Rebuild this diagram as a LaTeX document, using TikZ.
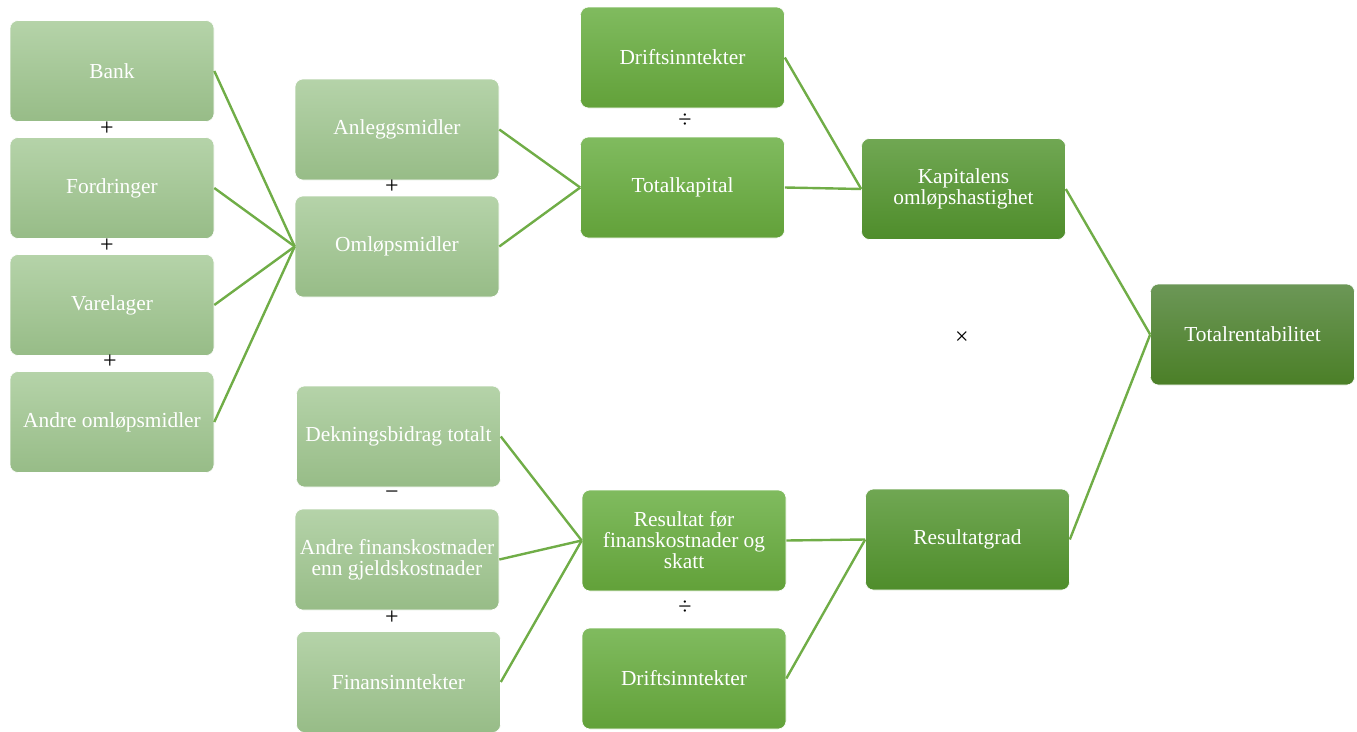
\documentclass[tikz,border=0pt]{standalone}
\usepackage{fontspec}
\setmainfont{Liberation Serif}
\definecolor{lineg}{HTML}{70AD47}
\definecolor{lt}{HTML}{B5D3A9}
\definecolor{lb}{HTML}{97BC87}
\definecolor{mt}{HTML}{80BB5F}
\definecolor{mb}{HTML}{62A139}
\definecolor{dt}{HTML}{70A753}
\definecolor{db}{HTML}{4F8D2B}
\definecolor{xt}{HTML}{6C9757}
\definecolor{xb}{HTML}{4B7F27}
\begin{document}
\begin{tikzpicture}[x=1pt,y=-1pt,
  box/.style={rounded corners=8pt, minimum width=204pt, minimum height=101pt,
    inner sep=1pt, align=center, text=white, font=\fontsize{21.4}{21}\selectfont,
    draw=white, line width=0.6pt},
  lightbox/.style={box, top color=lt, bottom color=lb},
  midbox/.style={box, top color=mt, bottom color=mb},
  darkbox/.style={box, top color=dt, bottom color=db},
  topbox/.style={box, top color=xt, bottom color=xb},
  op/.style={font=\fontsize{24}{24}\selectfont, text=black, inner sep=0pt},
  link/.style={draw=lineg, line width=2.4pt}]
\useasboundingbox (0,0) rectangle (1357,731);
% column 1
\node[lightbox] (bank) at (112,71) {Bank};
\node[lightbox] (ford) at (112,188) {Fordringer};
\node[lightbox] (vare) at (112,305) {Varelager};
\node[lightbox] (andre) at (112,422) {Andre omløpsmidler};
\node[op] (p1) at (107,129) {+};
\node[op] (p2) at (107,246) {+};
\node[op] (p3) at (110,362) {+};
% column 2
\node[lightbox] (anl) at (397,129.5) {Anleggsmidler};
\node[lightbox] (oml) at (397,246.5) {Omløpsmidler};
\node[op] (p4) at (392,187) {+};
\node[lightbox] (dek) at (398.5,436.5) {Dekningsbidrag totalt};
\node[lightbox] (afk) at (397,559.5) {Andre finanskostnader\\enn gjeldskostnader};
\node[lightbox] (fin) at (398.5,682) {Finansinntekter};
\node[op] (m1) at (392,495) {−};
\node[op] (p5) at (392,618) {+};
% column 3
\node[midbox] (drift1) at (682.5,57.5) {Driftsinntekter};
\node[midbox] (totk) at (682.5,187.5) {Totalkapital};
\node[op] (d1) at (685,121) {÷};
\node[midbox] (res) at (684,540.5) {Resultat før\\finanskostnader og\\skatt};
\node[midbox] (drift2) at (684,678.5) {Driftsinntekter};
\node[op] (d2) at (685,608) {÷};
% column 4
\node[darkbox] (kap) at (963.5,189) {Kapitalens\\omløpshastighet};
\node[darkbox] (resg) at (967.5,539.5) {Resultatgrad};
\node[op] (x1) at (962,338) {×};
% column 5
\node[topbox] (tot) at (1252.5,334.5) {Totalrentabilitet};
% connectors
\draw[link] (bank.east) -- (oml.west);
\draw[link] (ford.east) -- (oml.west);
\draw[link] (vare.east) -- (oml.west);
\draw[link] (andre.east) -- (oml.west);
\draw[link] (anl.east) -- (totk.west);
\draw[link] (oml.east) -- (totk.west);
\draw[link] (drift1.east) -- (kap.west);
\draw[link] (totk.east) -- (kap.west);
\draw[link] (kap.east) -- (tot.west);
\draw[link] (resg.east) -- (tot.west);
\draw[link] (dek.east) -- (res.west);
\draw[link] (afk.east) -- (res.west);
\draw[link] (fin.east) -- (res.west);
\draw[link] (res.east) -- (resg.west);
\draw[link] (drift2.east) -- (resg.west);
\end{tikzpicture}
\end{document}
